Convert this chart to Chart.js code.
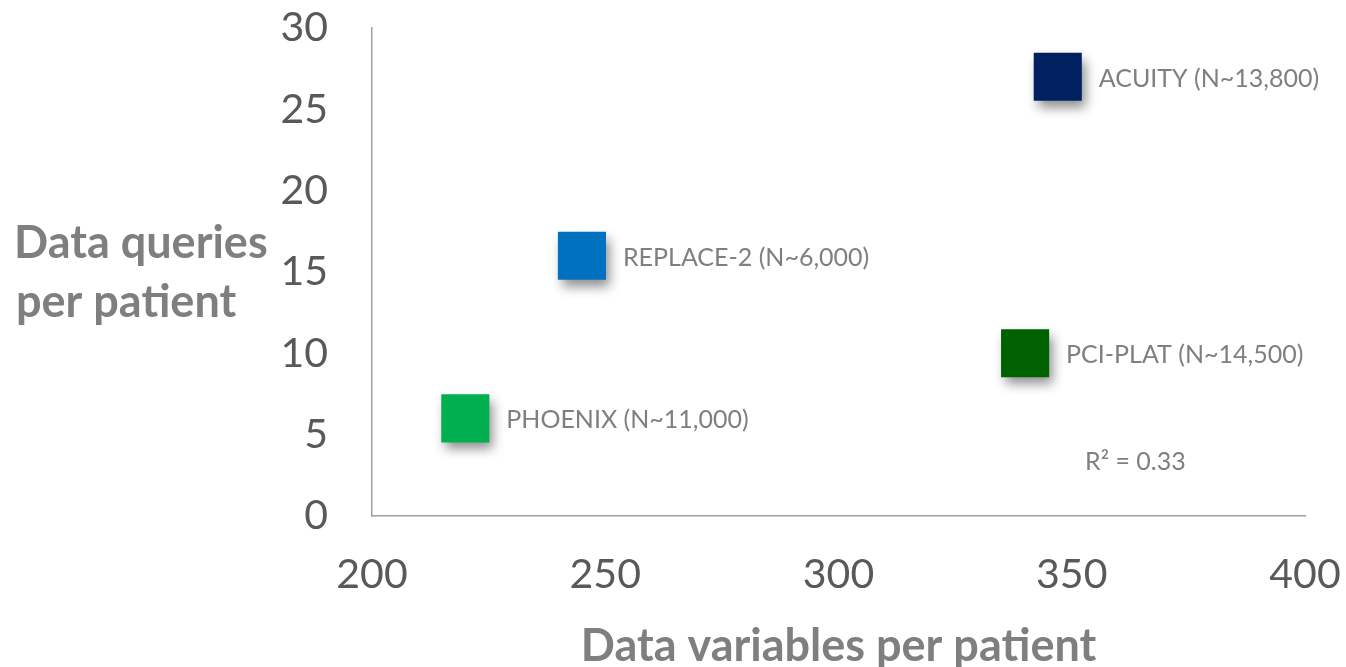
<!DOCTYPE html>
<html>
<head>
<meta charset="utf-8">
<script src="https://cdn.jsdelivr.net/npm/chart.js@4/dist/chart.umd.min.js"></script>
<style>
  html, body { margin: 0; padding: 0; background: #fff; }
  #wrap { width: 1346px; height: 667px; }
</style>
</head>
<body>
<div id="wrap"><canvas id="myChart" width="1346" height="667"></canvas></div>
<script>
// datos
var trialNames = ['ACUITY (N~13,800)', 'REPLACE-2 (N~6,000)', 'PCI-PLAT (N~14,500)', 'PHOENIX (N~11,000)'];
var variablesPerPatient = [347, 245, 340, 220];
var queriesPerPatient = [27, 16, 10, 6];
var trialColors = ['#002060', '#0070C0', '#006100', '#00B050'];
var xTicks = [200, 250, 300, 350, 400];
var yTicks = [0, 5, 10, 15, 20, 25, 30];
var rSquaredText = 'R² = 0.33';
var rSquaredPos = [364, 3.3];

var FONT = 'Lato, "Open Sans", sans-serif';

// sombra para los cuadrados
var shadowPlugin = {
    id: 'shadow',
    beforeDatasetsDraw: function (chart) {
        var ctx = chart.ctx;
        ctx.save();
        ctx.shadowColor = 'rgba(0,0,0,0.45)';
        ctx.shadowBlur = 11;
        ctx.shadowOffsetX = 4;
        ctx.shadowOffsetY = 7;
    },
    afterDatasetsDraw: function (chart) {
        chart.ctx.restore();
    }
};

// etiquetas junto a cada punto, titulo del eje y y el R2
var labelsPlugin = {
    id: 'labels',
    afterDraw: function (chart) {
        var ctx = chart.ctx;
        ctx.save();
        ctx.fillStyle = '#7f7f7f';
        ctx.font = '25px ' + FONT;
        ctx.textAlign = 'left';
        ctx.textBaseline = 'middle';
        chart.data.datasets.forEach(function (ds, i) {
            var pt = chart.getDatasetMeta(i).data[0];
            ctx.fillText(ds.label, pt.x + 41, pt.y + 2);
        });

        var xs = chart.scales.x, ys = chart.scales.y;
        ctx.fillText(rSquaredText, xs.getPixelForValue(rSquaredPos[0]) - 52, ys.getPixelForValue(rSquaredPos[1]));

        ctx.font = 'bold 45px ' + FONT;
        ctx.fillText('Data queries', 14, 243);
        ctx.fillText('per patient', 16, 302);
        ctx.restore();
    }
};

function noPad(s) {
    s.paddingTop = 0;
    s.paddingBottom = 0;
    s.paddingLeft = 0;
    s.paddingRight = 0;
}

var datasets = trialNames.map(function (name, i) {
    return {
        label: name,
        data: [{ x: variablesPerPatient[i], y: queriesPerPatient[i] }],
        backgroundColor: trialColors[i],
        borderWidth: 0,
        pointStyle: 'rect',
        pointRadius: 34,
        pointHoverRadius: 34
    };
});

var ctx = document.getElementById('myChart').getContext('2d');
var myChart = new Chart(ctx, {
    type: 'scatter',
    data: { datasets: datasets },
    options: {
        responsive: false,
        animation: false,
        events: [],
        layout: { autoPadding: false, padding: { top: 28, right: 41, left: 0, bottom: 0 } },
        plugins: {
            legend: { display: false },
            tooltip: { enabled: false }
        },
        scales: {
            x: {
                type: 'linear',
                min: 200,
                max: 400,
                afterBuildTicks: function (s) { s.ticks = xTicks.map(function (v) { return { value: v }; }); },
                afterFit: function (s) { s.height = 151; noPad(s); },
                grid: { display: false, drawTicks: false },
                border: { display: true, color: '#a0a0a0', width: 1.5 },
                ticks: { color: '#595959', font: { family: FONT, size: 41 }, padding: 34, maxRotation: 0 },
                title: {
                    display: true,
                    text: 'Data variables per patient',
                    color: '#7f7f7f',
                    font: { family: FONT, size: 45, weight: 'bold' },
                    padding: { top: 0, bottom: -6 }
                }
            },
            y: {
                type: 'linear',
                min: 0,
                max: 30,
                afterBuildTicks: function (s) { s.ticks = yTicks.map(function (v) { return { value: v }; }); },
                afterFit: function (s) { s.width = 372; noPad(s); },
                grid: { display: false, drawTicks: false },
                border: { display: true, color: '#a0a0a0', width: 1.5 },
                ticks: { color: '#595959', font: { family: FONT, size: 41 }, padding: 44 }
            }
        }
    },
    plugins: [shadowPlugin, labelsPlugin]
});
</script>
</body>
</html>
